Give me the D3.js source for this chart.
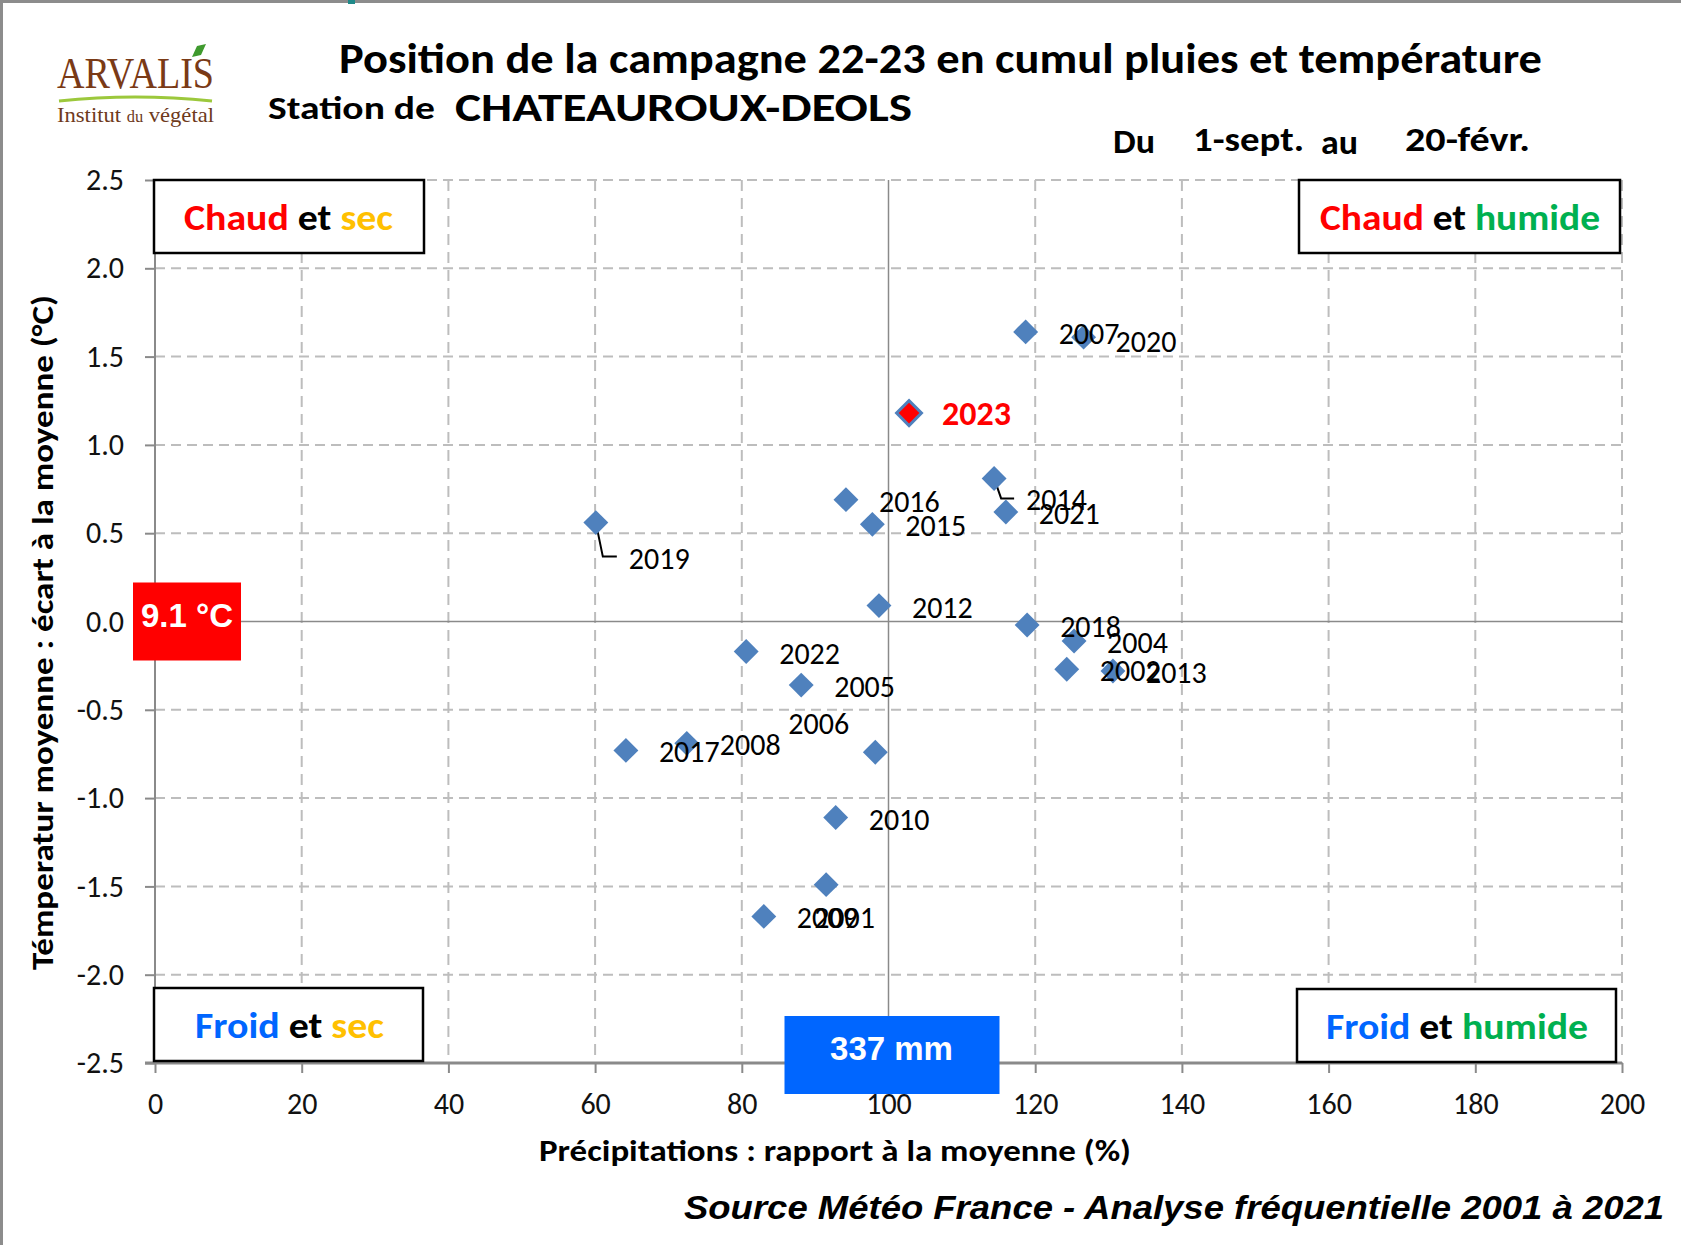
<!DOCTYPE html>
<html>
<head>
<meta charset="utf-8">
<script src="https://cdn.jsdelivr.net/npm/d3@7"></script>
<style>
  body { margin: 0; background: #fff; }
  svg text { font-family: Carlito, Lato, "Noto Sans", sans-serif; }
</style>
</head>
<body>
<svg id="chart" width="1681" height="1245"></svg>
<script>
(function () {
  'use strict';

  // --- data ---
  var years = [2001, 2002, 2004, 2005, 2006, 2007, 2008, 2009, 2010, 2012, 2013,
               2014, 2015, 2016, 2017, 2018, 2019, 2020, 2021, 2022, 2023];
  var precipPct = [91.5, 124.3, 125.3, 88.1, 98.2, 118.7, 72.5, 83.0, 92.8, 98.7, 130.6,
                   114.4, 97.8, 94.2, 64.2, 118.9, 60.1, 126.6, 116.0, 80.6, 102.8];
  var tempGap = [-1.49, -0.27, -0.11, -0.36, -0.74, 1.64, -0.69, -1.67, -1.11, 0.09, -0.28,
                 0.81, 0.55, 0.69, -0.73, -0.02, 0.56, 1.61, 0.62, -0.17, 1.18];
  var xTicks = [0, 20, 40, 60, 80, 100, 120, 140, 160, 180, 200];
  var yTicks = [-2.5, -2.0, -1.5, -1.0, -0.5, 0.0, 0.5, 1.0, 1.5, 2.0, 2.5];
  var currentYear = 2023;
  var meanTemp = '9.1 °C';
  var meanRain = '337 mm';
  var periodStart = '1-sept.';
  var periodEnd = '20-févr.';

  var points = years.map(function (yr, i) {
    return {year: yr, x: precipPct[i], y: tempGap[i]};
  });

  // labels Excel had moved by hand [dx, dy]
  var labelShift = {2001: [-12, 43], 2006: [-87, -18], 2014: [32, 32], 2019: [33, 46], 2020: [32, 15]};
  var leaders = [2014, 2019];

  var svg = d3.select('#chart');
  var x = d3.scaleLinear().domain([0, 200]).range([155, 1622]);
  var y = d3.scaleLinear().domain([-2.5, 2.5]).range([1063, 180]);

  // frame
  svg.append('path').attr('d', 'M1.5,1245 L1.5,1.5 L1681,1.5')
      .attr('fill', 'none').attr('stroke', '#8c8c8c').attr('stroke-width', 3);
  svg.append('rect').attr('x', 348).attr('y', 0).attr('width', 7).attr('height', 4).attr('fill', '#1f8a8a');

  // grid
  var grid = svg.append('g');
  grid.selectAll('.vg').data(xTicks.filter(function (d) { return d !== 0 && d !== 100; }))
      .enter().append('line')
      .attr('x1', function (d) { return x(d); }).attr('x2', function (d) { return x(d); })
      .attr('y1', y(2.5)).attr('y2', y(-2.5))
      .attr('stroke', '#bdbdbd').attr('stroke-width', 2).attr('stroke-dasharray', '11,7');
  grid.selectAll('.hg').data(yTicks.filter(function (d) { return d !== 0 && d !== -2.5; }))
      .enter().append('line')
      .attr('y1', function (d) { return y(d); }).attr('y2', function (d) { return y(d); })
      .attr('x1', x(0)).attr('x2', x(200))
      .attr('stroke', '#bdbdbd').attr('stroke-width', 2).attr('stroke-dasharray', '10,6');

  // mean lines
  svg.append('line').attr('x1', x(100)).attr('x2', x(100)).attr('y1', y(2.5)).attr('y2', y(-2.5))
      .attr('stroke', '#8a8a8a').attr('stroke-width', 1.5);
  svg.append('line').attr('x1', x(0)).attr('x2', x(200)).attr('y1', y(0)).attr('y2', y(0))
      .attr('stroke', '#8a8a8a').attr('stroke-width', 1.5);

  // axes
  var fmt = function (d) { return d.toFixed(1); };
  var yAxis = svg.append('g').attr('transform', 'translate(' + x(0) + ',0)')
      .call(d3.axisLeft(y).tickValues(yTicks).tickSize(10).tickPadding(21).tickFormat(fmt));
  var xAxis = svg.append('g').attr('transform', 'translate(0,' + y(-2.5) + ')')
      .call(d3.axisBottom(x).tickValues(xTicks).tickSize(10).tickPadding(20));
  [yAxis, xAxis].forEach(function (ax) {
    ax.select('.domain').remove();
    ax.selectAll('.tick line').attr('stroke', '#8a8a8a').attr('stroke-width', 2);
    ax.selectAll('.tick text').attr('fill', '#111').style('font-size', '30px')
        .style('font-family', 'Carlito, Lato, sans-serif');
  });
  svg.append('line').attr('x1', x(0)).attr('x2', x(0)).attr('y1', y(2.5)).attr('y2', y(-2.5))
      .attr('stroke', '#8a8a8a').attr('stroke-width', 2);
  svg.append('line').attr('x1', x(0) - 10).attr('x2', x(200)).attr('y1', y(-2.5)).attr('y2', y(-2.5))
      .attr('stroke', '#8a8a8a').attr('stroke-width', 3);

  // quadrant boxes
  var quads = [
    {words: [['Chaud', '#ff0000'], ['et', '#000'], ['sec', '#ffc000']], left: true, top: true, w: 270, len: 209, tx: 30},
    {words: [['Chaud', '#ff0000'], ['et', '#000'], ['humide', '#00b050']], left: false, top: true, w: 321, len: 280, tx: 21},
    {words: [['Froid', '#0066ff'], ['et', '#000'], ['sec', '#ffc000']], left: true, top: false, w: 269, len: 189, tx: 41},
    {words: [['Froid', '#0066ff'], ['et', '#000'], ['humide', '#00b050']], left: false, top: false, w: 319, len: 262, tx: 29}
  ];
  quads.forEach(function (q) {
    var bx = q.left ? x(0) - 1 : x(200) - q.w - (q.top ? 2 : 6);
    var by = q.top ? y(2.5) : y(-2.5) - 75 + (q.left ? 0 : 1);
    var g = svg.append('g');
    g.append('rect').attr('x', bx).attr('y', by).attr('width', q.w).attr('height', 73)
        .attr('fill', '#fff').attr('stroke', '#000').attr('stroke-width', 2.5);
    var t = g.append('text').attr('x', bx + q.tx).attr('y', by + 50)
        .attr('textLength', q.len).attr('lengthAdjust', 'spacingAndGlyphs')
        .style('font-size', '36px').style('font-weight', 'bold');
    q.words.forEach(function (w, i) {
      t.append('tspan').attr('fill', w[1]).text((i ? ' ' : '') + w[0]);
    });
  });

  // mean value boxes
  svg.append('rect').attr('x', 133).attr('y', y(0) - 39).attr('width', 108).attr('height', 78).attr('fill', '#ff0000');
  svg.append('text').attr('x', 187).attr('y', y(0) + 5).attr('text-anchor', 'middle')
      .attr('fill', '#fff').style('font-family', '"Liberation Sans", Arial, sans-serif')
      .style('font-weight', 'bold').style('font-size', '33px').text(meanTemp);
  svg.append('rect').attr('x', x(100) - 104).attr('y', y(-2.5) - 47).attr('width', 215).attr('height', 78).attr('fill', '#0066ff');
  svg.append('text').attr('x', x(100) + 3).attr('y', y(-2.5) - 3).attr('text-anchor', 'middle')
      .attr('fill', '#fff').style('font-family', '"Liberation Sans", Arial, sans-serif')
      .style('font-weight', 'bold').style('font-size', '33px').text(meanRain);

  // leader lines
  points.filter(function (d) { return leaders.indexOf(d.year) >= 0; }).forEach(function (d) {
    var s = labelShift[d.year], px = x(d.x), py = y(d.y), ly = py + s[1] - 12;
    svg.append('path').attr('d', 'M' + px + ',' + py + 'L' + (px + 7) + ',' + ly + 'L' + (px + s[0] - 12) + ',' + ly)
        .attr('fill', 'none').attr('stroke', '#000').attr('stroke-width', 2);
  });

  // points
  var sym = d3.symbol().type(d3.symbolSquare).size(310);
  svg.append('g').selectAll('path').data(points).enter().append('path')
      .attr('d', sym)
      .attr('transform', function (d) { return 'translate(' + x(d.x) + ',' + y(d.y) + ') rotate(45)'; })
      .attr('fill', function (d) { return d.year === currentYear ? '#ff0000' : '#4f81bd'; })
      .attr('stroke', '#4f81bd').attr('stroke-width', function (d) { return d.year === currentYear ? 3 : 0; });

  // point labels
  svg.append('g').selectAll('text').data(points).enter().append('text')
      .attr('x', function (d) { return x(d.x) + (labelShift[d.year] ? labelShift[d.year][0] : 33); })
      .attr('y', function (d) { return y(d.y) + (labelShift[d.year] ? labelShift[d.year][1] : 12); })
      .attr('fill', function (d) { return d.year === currentYear ? '#ff0000' : '#000'; })
      .style('font-size', function (d) { return d.year === currentYear ? '34px' : '30px'; })
      .style('font-weight', function (d) { return d.year === currentYear ? 'bold' : 'normal'; })
      .text(function (d) { return d.year; });

  // titles
  function txt(s, px, py, size, len, extra) {
    var t = svg.append('text').attr('x', px).attr('y', py).style('font-size', size + 'px')
        .style('font-weight', 'bold').attr('fill', '#000').text(s);
    if (len) t.attr('textLength', len).attr('lengthAdjust', 'spacingAndGlyphs');
    if (extra) extra(t);
    return t;
  }
  txt('Position de la campagne 22-23 en cumul pluies et température', 339, 73, 42, 1203);
  txt('Station de', 268, 119, 33, 167);
  txt('CHATEAUROUX-DEOLS', 455, 121, 40, 457);
  txt('Du', 1113, 153, 34, 42);
  txt(periodStart, 1193, 151, 34, 111);
  txt('au', 1321, 154, 34, 37);
  txt(periodEnd, 1405, 151, 34, 125);
  txt('Précipitations : rapport à la moyenne (%)', 539, 1161, 30, 592);
  txt('Témperatur moyenne : écart à la moyenne (°C)', 0, 0, 31, 675, function (t) {
    t.attr('transform', 'translate(53,970) rotate(-90)');
  });
  txt('Source Météo France - Analyse fréquentielle 2001 à 2021', 684, 1219, 34, 980, function (t) {
    t.style('font-style', 'italic').style('font-family', '"Liberation Sans", Arial, sans-serif');
  });

  // logo
  var logo = svg.append('g');
  logo.append('text').attr('x', 57).attr('y', 88).attr('textLength', 157).attr('lengthAdjust', 'spacingAndGlyphs')
      .style('font-family', '"Liberation Serif", "DejaVu Serif", serif').style('font-size', '44px')
      .attr('fill', '#7a3a16').text('ARVALIS');
  logo.append('path').attr('d', 'M192,57 L197,46 L206,44 L201,55 Z').attr('fill', '#3f9a2e');
  logo.append('path').attr('d', 'M59,101 Q135,93 212,101').attr('fill', 'none')
      .attr('stroke', '#9cc83c').attr('stroke-width', 3);
  var inst = logo.append('text').attr('x', 57).attr('y', 122).attr('textLength', 157).attr('lengthAdjust', 'spacingAndGlyphs')
      .style('font-family', '"Liberation Serif", "DejaVu Serif", serif').style('font-size', '22px').attr('fill', '#6e3a1c');
  inst.append('tspan').text('Institut ');
  inst.append('tspan').style('font-size', '16px').text('du');
  inst.append('tspan').text(' végétal');
}());
</script>
</body>
</html>
